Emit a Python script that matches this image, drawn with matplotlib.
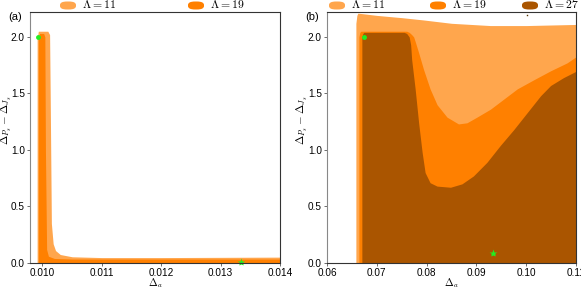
import numpy as np
import matplotlib
matplotlib.use('Agg')
import matplotlib.pyplot as plt
from matplotlib.patches import FancyBboxPatch

plt.rcParams['font.family'] = ['Liberation Sans', 'DejaVu Sans']
plt.rcParams['mathtext.fontset'] = 'cm'

# ---- data ----
labels_a = ['11', '19']
labels_b = ['11', '19', '27']
colors = {'11': '#FFA64D', '19': '#FF8000', '27': '#AA5500'}

# panel (a): upper boundaries of the allowed regions
a11_x = [0.00991, 0.00993, 0.01009, 0.01012, 0.01013, 0.01015, 0.01018,
         0.01022, 0.01030, 0.0105, 0.0110, 0.0120, 0.0130, 0.0140]
a11_y = [1.98, 2.05, 2.05, 2.02, 1.5, 0.35, 0.17, 0.11, 0.075, 0.055,
         0.048, 0.048, 0.05, 0.052]
a19_x = [0.00993, 0.00995, 0.01002, 0.01004, 0.01005, 0.01007, 0.01010,
         0.0102, 0.0105, 0.0140]
a19_y = [1.98, 2.03, 2.03, 2.0, 1.0, 0.12, 0.06, 0.04, 0.035, 0.035]

# panel (b)
b11_x = [0.0658, 0.0660, 0.0662, 0.070, 0.075, 0.0793, 0.085, 0.0928,
         0.100, 0.110]
b11_y = [2.12, 2.19, 2.21, 2.19, 2.17, 2.15, 2.12, 2.10, 2.10, 2.11]
b19_x = [0.0664, 0.0666, 0.0668, 0.0760, 0.0765, 0.0770, 0.0774, 0.0777,
         0.0784, 0.0794, 0.0807, 0.0821, 0.0841, 0.0864, 0.0881, 0.0901,
         0.0928, 0.0955, 0.0982, 0.1015, 0.1049, 0.1082, 0.1102]
b19_y = [2.0, 2.04, 2.05, 2.05, 2.04, 2.02, 2.00, 1.96, 1.86, 1.71, 1.54,
         1.40, 1.29, 1.23, 1.24, 1.29, 1.36, 1.45, 1.54, 1.62, 1.70,
         1.77, 1.83]
b27_x = [0.0670, 0.0672, 0.0674, 0.0755, 0.0760, 0.0765, 0.0768, 0.0770,
         0.0777, 0.0784, 0.0791, 0.0797, 0.0807, 0.0821, 0.0848, 0.0871,
         0.0894, 0.0921, 0.0948, 0.0975, 0.1002, 0.1029, 0.1049, 0.1075,
         0.1102]
b27_y = [2.0, 2.03, 2.04, 2.04, 2.03, 2.0, 1.93, 1.80, 1.54, 1.24, 0.98,
         0.80, 0.71, 0.68, 0.67, 0.70, 0.77, 0.89, 1.04, 1.18, 1.33, 1.48,
         1.57, 1.64, 1.70]

dots_a = ([0.00993], [2.0])
stars_a = ([0.01334], [0.005])
dots_b = ([0.0675], [2.0])
stars_b = ([0.0934], [0.09])
speck_b = ([0.1002], [2.19])

xticks_a = [0.010, 0.011, 0.012, 0.013, 0.014]
xticks_b = [0.06, 0.07, 0.08, 0.09, 0.10, 0.11]
yticks = [0.0, 0.5, 1.0, 1.5, 2.0]


def style_axes(ax, ylab_x):
    for loc in ['top', 'right', 'bottom']:
        ax.spines[loc].set_color('#333333')
        ax.spines[loc].set_linewidth(0.8)
    ax.spines['left'].set_color('#888888')
    ax.spines['left'].set_linewidth(0.8)
    ax.tick_params(axis='both', labelsize=7.2, length=2.5, width=0.6,
                   color='#555555', pad=1.2)
    ax.set_yticks(yticks)
    ax.set_ylim(0, 2.22)
    ax.set_xlabel(r'$\Delta_a$', fontsize=7.5, va='center')
    ax.xaxis.set_label_coords(0.5, -0.079)
    ax.set_ylabel(r'$\Delta_{P_s} - \Delta_{J_s}$', fontsize=8, va='center')
    ax.yaxis.set_label_coords(ylab_x, 0.57)


def add_legend(fig, x0s, labels):
    for x0, lab in zip(x0s, labels):
        fig.add_artist(FancyBboxPatch((x0 / 581, 1 - 9.5 / 288),
                                      16 / 581, 8 / 288,
                                      boxstyle='round,pad=0,rounding_size=0.012',
                                      transform=fig.transFigure,
                                      color=colors[lab], lw=0))
        fig.text((x0 + 22) / 581, 1 - 5.5 / 288, r'$\Lambda = %s$' % lab,
                 fontsize=8.5, va='center', ha='left')


fig = plt.figure(figsize=(5.81, 2.88), dpi=100)
ax1 = fig.add_axes([30 / 581, 25 / 288, 250 / 581, 251 / 288])
ax2 = fig.add_axes([327 / 581, 25 / 288, 249 / 581, 251 / 288])

# panel (a)
ax1.fill_between(a11_x, 0, a11_y, color=colors['11'], lw=0)
ax1.fill_between(a19_x, 0, a19_y, color=colors['19'], lw=0)
ax1.plot(*dots_a, 'o', color='#22EE22', ms=3.5, mec='none')
ax1.plot(*stars_a, '*', color='#22EE22', ms=6, mec='none', clip_on=False)
ax1.set_xlim(0.00979, 0.014)
ax1.set_xticks(xticks_a)
ax1.set_xticklabels(['%.3f' % v for v in xticks_a])
style_axes(ax1, -0.094)

# panel (b)
ax2.fill_between(b11_x, 0, b11_y, color=colors['11'], lw=0)
ax2.fill_between(b19_x, 0, b19_y, color=colors['19'], lw=0)
ax2.fill_between(b27_x, 0, b27_y, color=colors['27'], lw=0)
ax2.plot(*dots_b, 'o', color='#22EE22', ms=3.5, mec='none')
ax2.plot(*stars_b, '*', color='#22EE22', ms=6, mec='none')
ax2.plot(*speck_b, 's', color='#553300', ms=1.0, mec='none')
ax2.set_xlim(0.06, 0.11)
ax2.set_xticks(xticks_b)
ax2.set_xticklabels(['%.2f' % v for v in xticks_b])
style_axes(ax2, -0.098)

fig.text(8 / 581, 1 - 17 / 288, '(a)', fontsize=8, va='center')
fig.text(305 / 581, 1 - 17 / 288, '(b)', fontsize=8, va='center')

add_legend(fig, [60, 188], labels_a)
add_legend(fig, [329, 430, 522], labels_b)

fig.savefig('out.png', dpi=100)
